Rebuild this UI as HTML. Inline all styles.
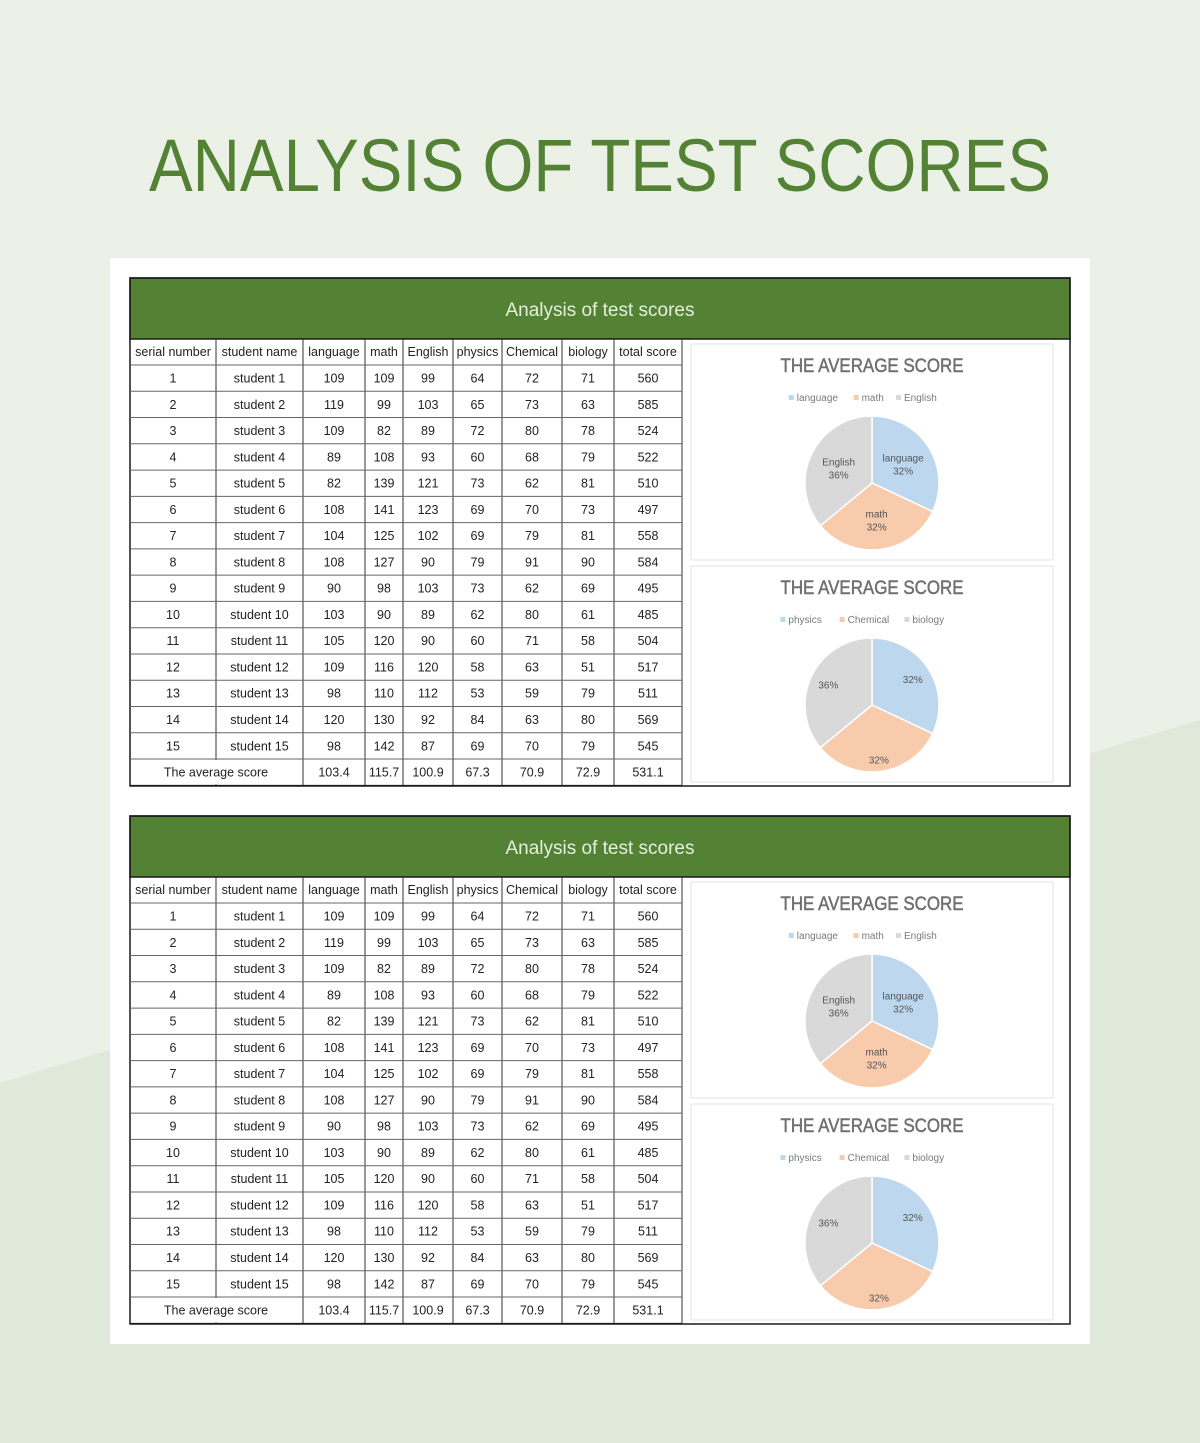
<!DOCTYPE html>
<html><head><meta charset="utf-8">
<style>
html,body{margin:0;padding:0;background:#e9f0e5;}
svg{display:block;font-family:"Liberation Sans",sans-serif;}
</style></head>
<body>
<svg id="root" width="1200" height="1443" viewBox="0 0 1200 1443">
  <rect x="0" y="0" width="1200" height="1443" fill="#ebf1e7"/>
  <polygon points="0,1083 1200,720 1200,1443 0,1443" fill="#dfe8d9"/>
  <text x="600" y="191" text-anchor="middle" font-size="74" fill="#548235" textLength="902" lengthAdjust="spacingAndGlyphs">ANALYSIS OF TEST SCORES</text>
  <rect x="110" y="258" width="980" height="1086" fill="#ffffff"/>
  <g id="content"></g>
</svg>
<script>
const headers = ["serial number","student name","language","math","English","physics","Chemical","biology","total score"];
const names = ["student 1","student 2","student 3","student 4","student 5","student 6","student 7","student 8","student 9","student 10","student 11","student 12","student 13","student 14","student 15"];
const language = [109,119,109,89,82,108,104,108,90,103,105,109,98,120,98];
const math = [109,99,82,108,139,141,125,127,98,90,120,116,110,130,142];
const english = [99,103,89,93,121,123,102,90,103,89,90,120,112,92,87];
const physics = [64,65,72,60,73,69,69,79,73,62,60,58,53,84,69];
const chemical = [72,73,80,68,62,70,79,91,62,80,71,63,59,63,70];
const biology = [71,63,78,79,81,73,81,90,69,61,58,51,79,80,79];
const totals = [560,585,524,522,510,497,558,584,495,485,504,517,511,569,545];
const averages = ["103.4","115.7","100.9","67.3","70.9","72.9","531.1"];
const pie1Labels = ["language","math","English"];
const pie1Values = [32,32,36];
const pie2Labels = ["physics","Chemical","biology"];
const pie2Values = [32,32,36];
const pieColors = ["#bdd7ee","#f8cbad","#d9d9d9"];

const NS="http://www.w3.org/2000/svg";
const content=document.getElementById('content');
function mk(tag,attrs,parent){const e=document.createElementNS(NS,tag);for(const k in attrs)e.setAttribute(k,attrs[k]);(parent||content).appendChild(e);return e;}
const colX=[130,216,303,365,403,453,502,562,614,682];

function section(oy, idx){
  const g=mk('g',{});
  
  
  const bar=mk('rect',{x:130,y:oy,width:940,height:61,fill:'#548235',stroke:'#1a1a1a','stroke-width':1.5},g);
  
  
  const tt=mk('text',{x:600,y:oy+38,'text-anchor':'middle','font-size':19,fill:'#e4efdc'},g);
  tt.textContent='Analysis of test scores';
  
  
  const top=oy+61, hH=26, rH=26.27;
  const frame=mk('rect',{x:130,y:oy,width:940,height:508,fill:'none',stroke:'#1a1a1a','stroke-width':1.5},g);
  
  
  const bottom=top+hH+16*rH;
  colX.forEach((x,i)=>{
    if(i===0)return;
    const l=mk('line',{x1:x,y1:top,x2:x,y2:bottom,stroke:'#333','stroke-width':1},g);
    
    
  });
  for(let r=0;r<=16;r++){
    const y=top+hH+r*rH;
    const l=mk('line',{x1:130,y1:y,x2:682,y2:y,stroke:r===16?'#1a1a1a':'#666','stroke-width':1},g);
    
    
  }
  headers.forEach((h,i)=>{
    const t=mk('text',{x:(colX[i]+colX[i+1])/2,y:top+17,'text-anchor':'middle','font-size':12.5,fill:'#222'},g);
    t.textContent=h;
    
    
  });
  const cols=[names.map((_,i)=>i+1),names,language,math,english,physics,chemical,biology,totals];
  for(let r=0;r<15;r++){
    const y=top+hH+r*rH+17.5;
    cols.forEach((c,i)=>{
      const t=mk('text',{x:(colX[i]+colX[i+1])/2,y:y,'text-anchor':'middle','font-size':12.5,fill:'#222'},g);
      t.textContent=c[r];
      
      
    });
  }
  const ay=top+hH+15*rH;
  mk('rect',{x:131,y:ay+1,width:171,height:rH-2,fill:'#fff'},g);
  const at=mk('text',{x:216,y:ay+17.5,'text-anchor':'middle','font-size':12.5,fill:'#222'},g);
  at.textContent='The average score';
  
  
  averages.forEach((v,i)=>{
    const t=mk('text',{x:(colX[i+2]+colX[i+3])/2,y:ay+17.5,'text-anchor':'middle','font-size':12.5,fill:'#222'},g);
    t.textContent=v;
    
    
  });
  pie(g,oy+66,pie1Labels,pie1Values,true,'pie-chart-main');
  pie(g,oy+288,pie2Labels,pie2Values,false,'pie-chart-science');
}

function pie(parent,py,labels,values,named,nm){
  const g=mk('g',{},parent);
  
  
  const panel=mk('rect',{x:691,y:py,width:362,height:216,fill:'#fff',stroke:'#e3e3e3','stroke-width':1},g);
  
  
  const t=mk('text',{x:872,y:py+28,'text-anchor':'middle','font-size':19,fill:'#707070',stroke:'#707070','stroke-width':0.5,textLength:183,lengthAdjust:'spacingAndGlyphs'},g);
  t.textContent='THE AVERAGE SCORE';
  
  
  const widths=labels.map(l=>l.length*5.6+20);
  const tot=widths.reduce((a,b)=>a+b,0);
  let lx=872-tot/2;
  labels.forEach((l,i)=>{
    const sw=mk('rect',{x:lx,y:py+51,width:5,height:5,fill:pieColors[i]},g);
    
    
    const lt=mk('text',{x:lx+8,y:py+57,'font-size':10,fill:'#7a7a7a'},g);
    lt.textContent=l;
    
    
    lx+=widths[i];
  });
  const cx=872,cy=py+139,r=67;
  const sum=values.reduce((a,b)=>a+b,0);
  let a0=0;
  values.forEach((v,i)=>{
    const a1=a0+v/sum*2*Math.PI;
    const x0=cx+r*Math.sin(a0),y0=cy-r*Math.cos(a0),x1=cx+r*Math.sin(a1),y1=cy-r*Math.cos(a1);
    const large=(a1-a0)>Math.PI?1:0;
    const p=mk('path',{d:`M${cx},${cy}L${x0},${y0}A${r},${r} 0 ${large} 1 ${x1},${y1}Z`,fill:pieColors[i],stroke:'#fff','stroke-width':1.5},g);
    
    
    const am=(a0+a1)/2;
    const lr=named?r*0.55:r*(i===1?0.82:0.72);
    const mx=cx+lr*Math.sin(am),my=cy-lr*Math.cos(am);
    const pct=Math.round(v/sum*100)+'%';
    if(named){
      const a=mk('text',{x:mx,y:my-2,'text-anchor':'middle','font-size':10,fill:'#555'},g);
      a.textContent=labels[i];
      
      
      const b=mk('text',{x:mx,y:my+11,'text-anchor':'middle','font-size':10,fill:'#555'},g);
      b.textContent=pct;
      
      
    } else {
      const b=mk('text',{x:mx,y:my+4,'text-anchor':'middle','font-size':10,fill:'#555'},g);
      b.textContent=pct;
      
      
    }
    a0=a1;
  });
}
section(278,1);
section(816,2);
</script>
</body></html>
